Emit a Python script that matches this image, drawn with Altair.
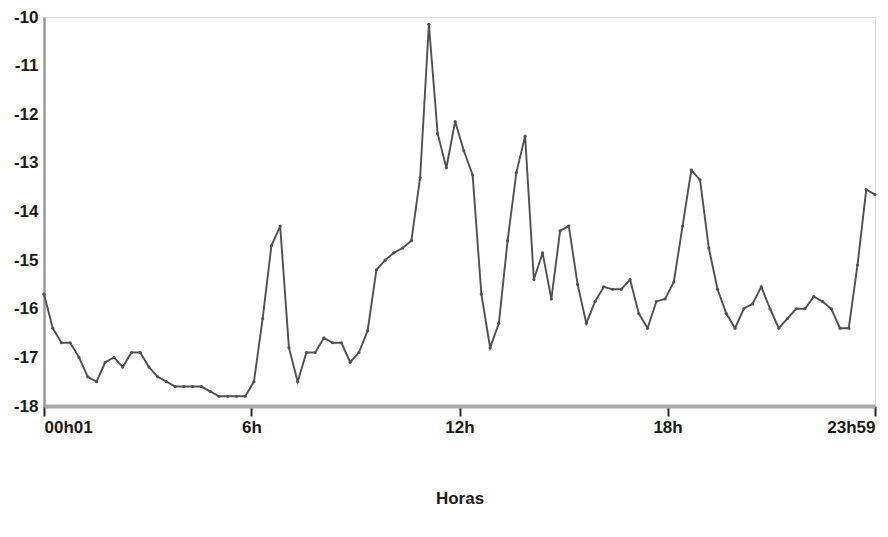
import altair as alt
import pandas as pd

# Values (one reading every ~15 min, 00h01 .. 23h59)
valores = [
    -15.7, -16.4, -16.7, -16.7, -17.0, -17.4, -17.5, -17.1, -17.0, -17.2,
    -16.9, -16.9, -17.2, -17.4, -17.5, -17.6, -17.6, -17.6, -17.6, -17.7,
    -17.8, -17.8, -17.8, -17.8, -17.5, -16.2, -14.7, -14.3, -16.8, -17.5,
    -16.9, -16.9, -16.6, -16.7, -16.7, -17.1, -16.9, -16.45, -15.2, -15.0,
    -14.85, -14.75, -14.6, -13.3, -10.15, -12.4, -13.1, -12.15, -12.75, -13.25,
    -15.7, -16.8, -16.3, -14.6, -13.2, -12.45, -15.4, -14.85, -15.8, -14.4,
    -14.3, -15.5, -16.3, -15.85, -15.55, -15.6, -15.6, -15.4, -16.1, -16.4,
    -15.85, -15.8, -15.45, -14.3, -13.15, -13.35, -14.75, -15.6, -16.1, -16.4,
    -16.0, -15.9, -15.55, -16.0, -16.4, -16.2, -16.0, -16.0, -15.75, -15.85,
    -16.0, -16.4, -16.4, -15.1, -13.55, -13.65,
]

inicio_min = 1      # 00h01
fim_min = 1439      # 23h59
tick_values = [1, 360, 720, 1080, 1439]
tick_labels = ["00h01", "6h", "12h", "18h", "23h59"]
y_ticks = [-18, -17, -16, -15, -14, -13, -12, -11, -10]

n = len(valores)
minutos = [inicio_min + i * (fim_min - inicio_min) / (n - 1) for i in range(n)]
df = pd.DataFrame({"minuto": minutos, "valor": valores})

label_expr = " : ".join(
    f"datum.value == {v} ? '{l}'" for v, l in zip(tick_values, tick_labels)
) + " : ''"

FONT = "Liberation Sans"

chart = (
    alt.Chart(df)
    .mark_line(
        color="#505050",
        strokeWidth=1.9,
        point=alt.OverlayMarkDef(size=10, color="#505050", filled=True),
    )
    .encode(
        x=alt.X(
            "minuto:Q",
            scale=alt.Scale(domain=[inicio_min, fim_min], nice=False, zero=False),
            axis=alt.Axis(
                values=tick_values,
                labelExpr=label_expr,
                title="Horas",
                titleFont=FONT,
                titleFontSize=17,
                titleFontWeight="bold",
                titleColor="#1a1a1a",
                titlePadding=55,
                labelFont=FONT,
                labelFontSize=17,
                labelFontWeight="bold",
                labelColor="#1a1a1a",
                labelPadding=3,
                labelFlush=True,
                domainColor="#aaaaaa",
                domainWidth=4,
                tickColor="#222222",
                tickWidth=2,
                tickSize=10,
                grid=False,
            ),
        ),
        y=alt.Y(
            "valor:Q",
            scale=alt.Scale(domain=[-18, -10], nice=False, zero=False),
            axis=alt.Axis(
                values=y_ticks,
                labelExpr="datum.value + ''",
                title=None,
                labelFont=FONT,
                labelFontSize=17,
                labelFontWeight="bold",
                labelColor="#1a1a1a",
                labelPadding=6,
                domainColor="#999999",
                domainWidth=2.5,
                ticks=False,
                tickSize=0,
                grid=False,
            ),
        ),
    )
    .properties(
        width=831,
        height=389,
        autosize=alt.AutoSizeParams(type="none"),
        padding={"left": 36, "top": 9, "right": 5, "bottom": 110},
    )
    .configure_view(stroke=None)
    .configure(background="white")
)

chart.save("out.html", embed_options={"renderer": "svg", "actions": False})
